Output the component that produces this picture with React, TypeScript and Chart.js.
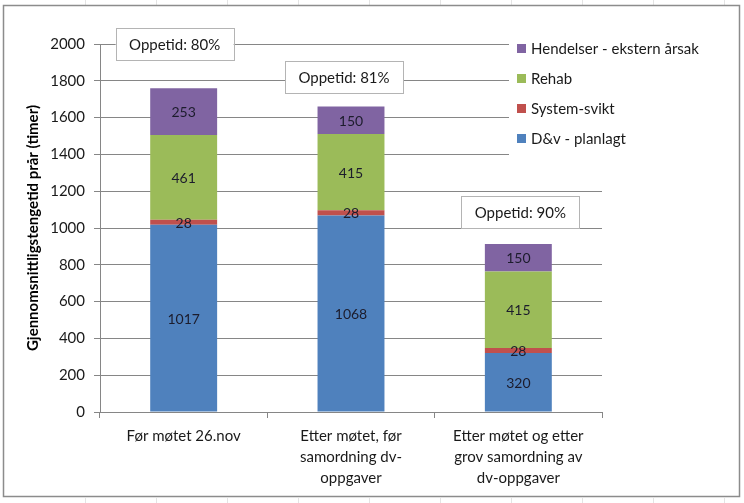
import React, { useEffect, useRef } from "react";
import { Chart, registerables } from "chart.js";

Chart.register(...registerables);

const categories: (string | string[])[] = [
  "Før møtet 26.nov",
  ["Etter møtet, før", "samordning dv-", "oppgaver"],
  ["Etter møtet og etter", "grov samordning av", "dv-oppgaver"],
];
const dvPlanlagt = [1017, 1068, 320];
const systemSvikt = [28, 28, 28];
const rehab = [461, 415, 415];
const hendelser = [253, 150, 150];
const oppetidLabels = ["Oppetid: 80%", "Oppetid: 81%", "Oppetid: 90%"];
const oppetidAnchors = [2000, 1820, 1085];
const yTicks = [0, 200, 400, 600, 800, 1000, 1200, 1400, 1600, 1800, 2000];

const FONT = "Lato, 'Open Sans', sans-serif";
const oppetidOffsetPx = [-9, -7, 2];

const framePlugin = {
  id: "frame",
  beforeDraw(chart: any) {
    const ctx = chart.ctx;
    ctx.save();
    ctx.fillStyle = "#ffffff";
    ctx.fillRect(0, 0, chart.width, chart.height);
    ctx.strokeStyle = "#e4e4e4";
    ctx.lineWidth = 1;
    for (let x = 85; x < chart.width; x += 71) {
      ctx.beginPath();
      ctx.moveTo(x + 0.5, 0);
      ctx.lineTo(x + 0.5, 5);
      ctx.moveTo(x + 0.5, 498);
      ctx.lineTo(x + 0.5, chart.height);
      ctx.stroke();
    }
    ctx.strokeStyle = "#8c8c8c";
    ctx.lineWidth = 1.5;
    ctx.strokeRect(3.5, 5.5, 736, 491);
    ctx.restore();
  },
};

const overlayPlugin = {
  id: "overlay",
  afterDatasetsDraw(chart: any) {
    const ctx = chart.ctx;
    const xs = chart.scales.x;
    const ys = chart.scales.y;
    ctx.save();
    ctx.font = `14px ${FONT}`;
    ctx.fillStyle = "#1c1c2c";
    ctx.textAlign = "center";
    ctx.textBaseline = "middle";
    chart.data.datasets.forEach((ds: any, di: number) => {
      const meta = chart.getDatasetMeta(di);
      meta.data.forEach((bar: any, i: number) => {
        const v = ds.data[i];
        const cy = (bar.y + bar.base) / 2;
        ctx.fillText(String(v), bar.x, cy + 1);
      });
    });
    ctx.font = `15px ${FONT}`;
    oppetidLabels.forEach((t, i) => {
      const cx = xs.getPixelForValue(i) + oppetidOffsetPx[i];
      const cy = ys.getPixelForValue(oppetidAnchors[i]);
      const w = 118;
      const h = 32;
      ctx.fillStyle = "#ffffff";
      ctx.fillRect(cx - w / 2, cy - h / 2, w, h);
      ctx.strokeStyle = "#b4b4b4";
      ctx.lineWidth = 1;
      ctx.strokeRect(Math.round(cx - w / 2) + 0.5, Math.round(cy - h / 2) + 0.5, w, h);
      ctx.fillStyle = "#1a1a1a";
      ctx.fillText(t, cx, cy + 1);
    });
    const lx = 509;
    const ly = 32;
    ctx.fillStyle = "#ffffff";
    ctx.fillRect(lx, ly, 220, 128);
    const dss = chart.data.datasets.slice().reverse();
    ctx.textAlign = "left";
    dss.forEach((ds: any, k: number) => {
      const y = 48 + k * 30;
      ctx.fillStyle = ds.backgroundColor;
      ctx.fillRect(517, y - 4, 9, 9);
      ctx.fillStyle = "#1a1a1a";
      ctx.fillText(ds.label, 531, y + 1);
    });
    ctx.restore();
  },
};

export default function App() {
  const ref = useRef<HTMLCanvasElement>(null);
  useEffect(() => {
    if (!ref.current) return;
    const chart = new Chart(ref.current, {
      type: "bar",
      data: {
        labels: categories as any,
        datasets: [
          { label: "D&v - planlagt", data: dvPlanlagt, backgroundColor: "#4f81bd" },
          { label: "System-svikt", data: systemSvikt, backgroundColor: "#c0504d" },
          { label: "Rehab", data: rehab, backgroundColor: "#9bbb59" },
          { label: "Hendelser - ekstern årsak", data: hendelser, backgroundColor: "#8064a2" },
        ],
      },
      options: {
        animation: false,
        responsive: false,
        devicePixelRatio: 1,
        datasets: { bar: { categoryPercentage: 1, barPercentage: 0.4 } },
        layout: { padding: { left: 24, right: 142, top: 44, bottom: 0 } },
        plugins: { legend: { display: false }, tooltip: { enabled: false } },
        scales: {
          x: {
            stacked: true,
            grid: { display: true, offset: true, drawOnChartArea: false, tickLength: 6, color: "#868686" },
            border: { color: "#868686", width: 1 },
            ticks: { color: "#1a1a1a", font: { family: FONT, size: 15, lineHeight: 1.4 }, padding: 8, maxRotation: 0, autoSkip: false },
            afterFit: (s: any) => { s.height = 91; },
          },
          y: {
            stacked: true,
            min: 0,
            max: 2000,
            afterBuildTicks: (s: any) => { s.ticks = yTicks.map((v) => ({ value: v })); },
            grid: { color: "#868686", tickLength: 6 },
            border: { color: "#868686", width: 1 },
            ticks: {
              color: "#1a1a1a",
              font: { family: FONT, size: 15 },
              padding: 9,
              callback: (v: any) => String(v),
            },
            title: {
              display: true,
              text: "Gjennomsnittligstengetid prår (timer)",
              color: "#000000",
              font: { family: FONT, size: 15, weight: "bold" },
              padding: 0,
            },
            afterFit: (s: any) => { s.width = 76; },
          },
        },
      },
      plugins: [framePlugin, overlayPlugin],
    });
    return () => chart.destroy();
  }, []);
  return (
    <div style={{ position: "fixed", left: 0, top: 0, width: 744, height: 503 }}>
      <canvas ref={ref} width={744} height={503} style={{ display: "block" }} />
    </div>
  );
}
